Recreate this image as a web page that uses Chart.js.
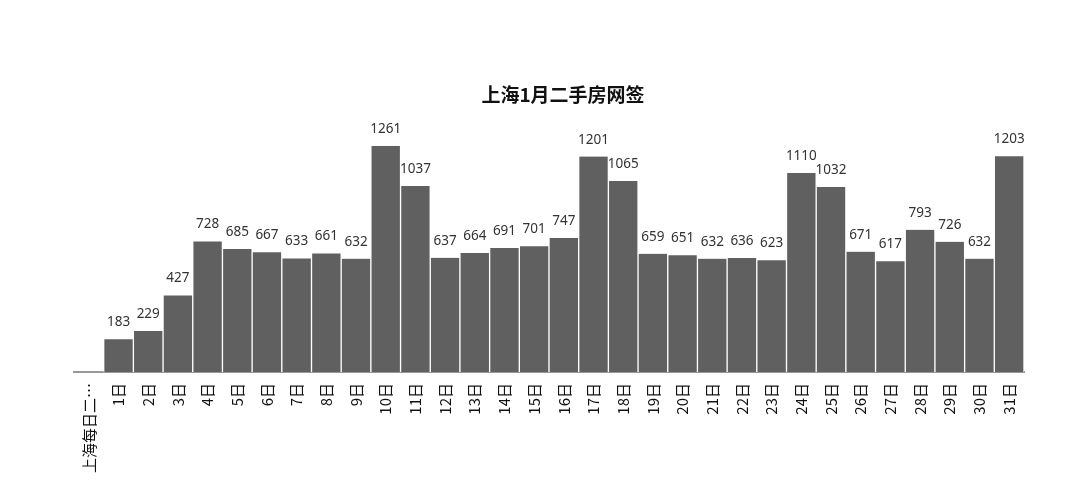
<!DOCTYPE html>
<html>
<head>
<meta charset="utf-8">
<script src="https://cdn.jsdelivr.net/npm/chart.js@4/dist/chart.umd.min.js"></script>
<style>
  html, body { margin: 0; padding: 0; background: #fff; }
  #wrap { width: 1080px; height: 491px; }
</style>
</head>
<body>
<div id="wrap"><canvas id="chart"></canvas></div>
<script>
const titleText = '上海1月二手房网签'

const days = [
  '上海每日二…', '1日', '2日', '3日', '4日', '5日', '6日', '7日', '8日', '9日', '10日',
  '11日', '12日', '13日', '14日', '15日', '16日', '17日', '18日', '19日', '20日',
  '21日', '22日', '23日', '24日', '25日', '26日', '27日', '28日', '29日', '30日', '31日'
]

const signings = [
  null, 183, 229, 427, 728, 685, 667, 633, 661, 632, 1261,
  1037, 637, 664, 691, 701, 747, 1201, 1065, 659, 651,
  632, 636, 623, 1110, 1032, 671, 617, 793, 726, 632, 1203
]

const fontFamily = '"Noto Sans CJK SC", "Noto Sans", sans-serif'

// draws the number above each bar
const valueLabels = {
  id: 'valueLabels',
  afterLayout(chart) {
    // title sits a bit right of the plot centre in the original
    if (chart.titleBlock) {
      chart.titleBlock.left += 14
      chart.titleBlock.right += 14
    }
  },
  afterDatasetsDraw(chart) {
    const ctx = chart.ctx
    const meta = chart.getDatasetMeta(0)
    ctx.save()
    ctx.font = '13.5px "Noto Sans", sans-serif'
    ctx.fillStyle = '#333'
    ctx.textAlign = 'center'
    ctx.textBaseline = 'alphabetic'
    meta.data.forEach((bar, i) => {
      const v = signings[i]
      if (v == null) return
      ctx.fillText(String(v), bar.x, bar.y - 13)
    })
    ctx.restore()
  }
}

const config = {
  type: 'bar',
  data: {
    labels: days,
    datasets: [{
      data: signings,
      backgroundColor: '#606060',
      borderColor: '#ffffff',
      borderWidth: { left: 1, right: 1, top: 0, bottom: 0 },
      borderSkipped: false,
      barPercentage: 1,
      categoryPercentage: 1
    }]
  },
  options: {
    responsive: true,
    maintainAspectRatio: false,
    animation: false,
    layout: { padding: { top: 83, left: 74, right: 56, bottom: 0 } },
    plugins: {
      legend: { display: false },
      tooltip: { enabled: false },
      title: {
        display: true,
        text: titleText,
        color: '#111',
        font: { family: fontFamily, size: 19, weight: 'bold' },
        padding: { top: 0, bottom: 40 }
      }
    },
    scales: {
      x: {
        grid: { display: false, drawTicks: false },
        border: { display: true, color: '#999', width: 2 },
        ticks: {
          autoSkip: false,
          minRotation: 90,
          maxRotation: 90,
          padding: 11,
          color: '#111',
          font: { family: fontFamily, size: 15 }
        },
        afterFit(scale) { scale.height = 119 }
      },
      y: {
        display: false,
        min: 0,
        max: Math.max(...signings.filter(v => v != null))
      }
    }
  },
  plugins: [valueLabels]
}

new Chart(document.getElementById('chart'), config)
</script>
</body>
</html>
